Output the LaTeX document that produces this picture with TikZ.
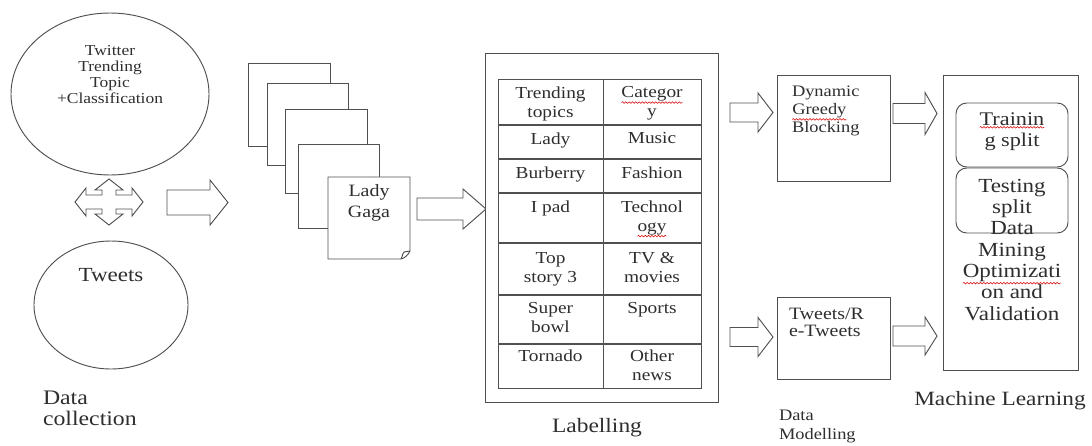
\documentclass[tikz,border=0pt]{standalone}
\usepackage{fontspec}
\setmainfont{Liberation Serif}[FakeStretch=1.15]
\usetikzlibrary{shapes.geometric,decorations.pathmorphing}
\newcommand\redwave[1]{\tikz[baseline=(wv.base)]{\node[inner sep=0pt,outer sep=0pt] (wv) {#1}; \draw[red!85!black, line width=0.4pt, decorate, decoration={snake,amplitude=0.6pt,segment length=2.5pt}] ([yshift=-1pt]wv.south west) -- ([yshift=-1pt]wv.south east);}}
\definecolor{ln}{HTML}{505050}
\definecolor{tx}{HTML}{2E2E2E}
\tikzset{
  shp/.style={draw=ln, line width=0.7pt, fill=white, inner sep=0pt, outer sep=0pt},
  lbl/.style={text=tx, inner sep=0pt, outer sep=0pt, align=center},
  lbll/.style={text=tx, inner sep=0pt, outer sep=0pt, align=left},
  celltxt/.style={lbl, anchor=north, font=\fontsize{12.6}{14.25}\selectfont},
}
\newcommand\pxbox[6][]{\node[shp,#1,minimum width={(#4-#2)*0.75pt},minimum height={(#5-#3)*0.75pt}] (#6) at ({(#2+#4)/2},{(#3+#5)/2}) {};}
\newcommand\blkarrow[6]{\draw[shp] (#1,#3-#4) -- (#6,#3-#4) -- (#6,#3-#5) -- (#2,#3) -- (#6,#3+#5) -- (#6,#3+#4) -- (#1,#3+#4) -- cycle;}
\begin{document}
\begin{tikzpicture}[x=0.75pt,y=-0.75pt]
\useasboundingbox (0,0) rectangle (1092,446);
\fill[white] (0,0) rectangle (1092,446);

% ---- Data collection ----
\node[shp, ellipse, minimum width=148.5pt, minimum height=121.5pt] (ell1) at (110,94) {};
\node[lbl, anchor=north, font=\fontsize{11.4}{12.2}\selectfont] (ell1t) at (110,45) {Twitter\\Trending\\Topic\\+Classification};
\node[shp, ellipse, minimum width=115.5pt, minimum height=96pt] (ell2) at (111,305) {};
\node[lbl, anchor=north, font=\fontsize{15}{18}\selectfont] (ell2t) at (111,268) {Tweets};

% four-way arrow
\begin{scope}[shift={(109,202)}]
\draw[shp] (7,-7) -- (23,-7) -- (23,-14) -- (34,0) -- (23,14) -- (23,7) -- (7,7)
  -- (7,12) -- (14,12) -- (0,23) -- (-14,12) -- (-7,12) -- (-7,7)
  -- (-23,7) -- (-23,14) -- (-34,0) -- (-23,-14) -- (-23,-7) -- (-7,-7)
  -- (-7,-12) -- (-14,-12) -- (0,-23) -- (14,-12) -- (7,-12) -- cycle;
\end{scope}

\node[lbll, anchor=north west, font=\fontsize{15.5}{15.75}\selectfont] (dcl) at (43,391) {Data\\collection};

% arrow 1
\blkarrow{167}{228}{202.5}{12.5}{22.5}{210}

% ---- page stack ----
\pxbox{248}{63}{330}{146}{pg1}
\pxbox{267}{83}{348}{165}{pg2}
\pxbox{285}{109}{367}{193}{pg3}
\pxbox{298}{144}{379}{228}{pg4}
\draw[shp] (328,177) -- (410,177) -- (410,251) .. controls (408,255) and (405,258) .. (401,259) -- (328,259) -- cycle;
\draw[ln, line width=0.7pt] (401,259) .. controls (403,256) and (402,253) .. (404,252) .. controls (406,251) and (408,252) .. (410,251);
\node[lbl, anchor=north, font=\fontsize{13}{15.75}\selectfont] (gaga) at (369,184) {Lady\\Gaga};

% arrow 2
\blkarrow{417}{486}{209}{11}{20}{463}

% ---- Labelling ----
\pxbox{485}{53}{718}{402}{labbox}
\pxbox{498}{79}{701}{388}{tbl}
\draw[ln, line width=0.7pt] (603,79) -- (603,388);
\foreach \yy in {125,159,193,243,295,344} \draw[ln, line width=0.8pt] (498,\yy) -- (701,\yy);
\node[celltxt] (c11) at (550.5,86.5) {Trending\\topics};
\node[celltxt] (c12) at (652,86.5) {\redwave{Categor}\\y};
\node[celltxt] (c21) at (550.5,132.5) {Lady};
\node[celltxt] (c22) at (652,132.5) {Music};
\node[celltxt] (c31) at (550.5,166.5) {Burberry};
\node[celltxt] (c32) at (652,166.5) {Fashion};
\node[celltxt] (c41) at (550.5,200.5) {I pad};
\node[celltxt] (c42) at (652,200.5) {Technol\\\redwave{ogy}};
\node[celltxt] (c51) at (550.5,252) {Top\\story 3};
\node[celltxt] (c52) at (652,252) {TV \&\\movies};
\node[celltxt] (c61) at (550.5,302.5) {Super\\bowl};
\node[celltxt] (c62) at (652,302.5) {Sports};
\node[celltxt] (c71) at (550.5,350) {Tornado};
\node[celltxt] (c72) at (652,350) {Other\\news};
\node[lbl, anchor=north, font=\fontsize{15.3}{18}\selectfont] (labt) at (597,418) {Labelling};

% arrows 3,4
\blkarrow{730}{773}{112.5}{9.5}{19.5}{758}
\blkarrow{730}{773}{337}{9.5}{19.5}{758}

% ---- Data Modelling ----
\pxbox{777}{75}{890}{181}{dyn}
\node[lbll, anchor=north west, font=\fontsize{12}{13.5}\selectfont] (dynt) at (792,86) {Dynamic\\\redwave{Greedy}\\Blocking};
\pxbox{777}{297}{890}{379}{twr}
\node[lbll, anchor=north west, font=\fontsize{13}{12.75}\selectfont] (twrt) at (789,308) {Tweets/R\\e-Tweets};
\node[lbll, anchor=north west, font=\fontsize{12}{14.25}\selectfont] (dml) at (779,410) {Data\\Modelling};

% arrows 5,6
\blkarrow{893}{937}{113.5}{10}{21}{925}
\blkarrow{893}{937}{336}{10}{19}{925}

% ---- Machine Learning ----
\pxbox{943}{75}{1078}{370}{mlbox}
\pxbox[rounded corners=8pt]{956}{103}{1068}{167}{train}
\pxbox[rounded corners=8pt]{956}{168}{1068}{233}{test}
\node[lbl, anchor=north, font=\fontsize{14.5}{15.75}\selectfont] (traint) at (1012,113) {\redwave{Trainin}\\g split};
\node[lbl, anchor=north, font=\fontsize{15}{16}\selectfont] (testt) at (1012,179) {Testing\\split\\Data\\Mining\\\redwave{Optimizati}\\on and\\Validation};
\node[lbl, anchor=north, font=\fontsize{15.2}{18}\selectfont] (mlt) at (1000,391) {Machine Learning};
\end{tikzpicture}
\end{document}
